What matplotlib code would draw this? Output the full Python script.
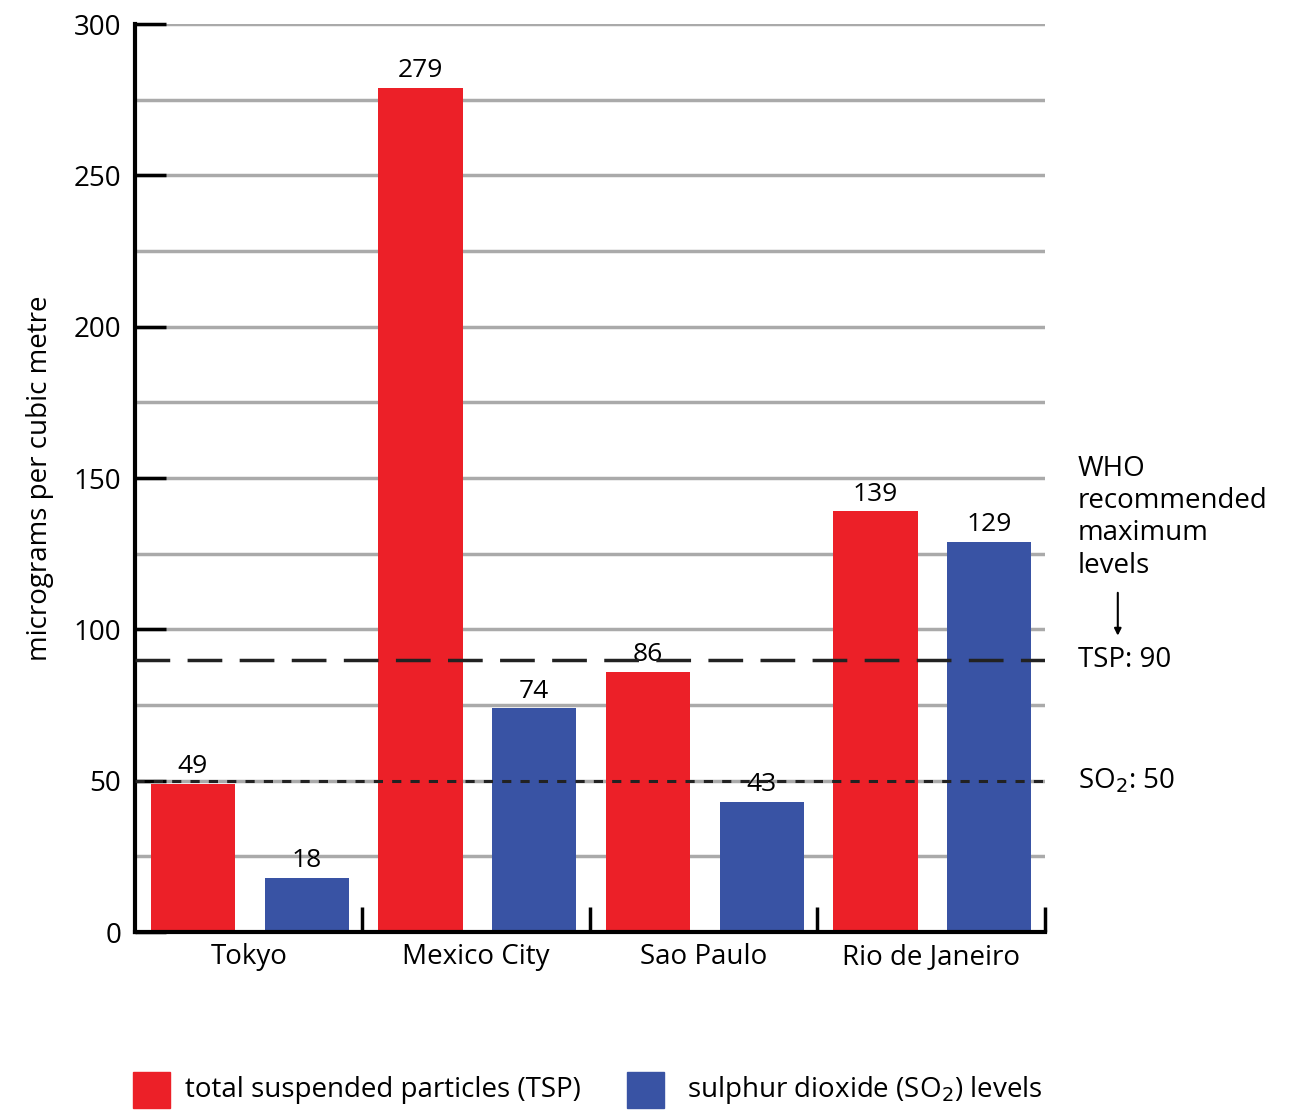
import matplotlib.pyplot as plt
import matplotlib.patches as mpatches
import numpy as np

plt.rcParams['font.family'] = ['Open Sans', 'DejaVu Sans']

cities = ['Tokyo', 'Mexico City', 'Sao Paulo', 'Rio de Janeiro']
tsp = [49, 279, 86, 139]
so2 = [18, 74, 43, 129]
tsp_limit = 90
so2_limit = 50

red = '#ec2028'
blue = '#3953a4'

fig = plt.figure(figsize=(12.89, 11.13), dpi=100)
ax = fig.add_axes([0.1047, 0.1626, 0.706, 0.8158])

x = np.arange(len(cities))
for v in range(25, 301, 25):
    ax.axhline(v, color='#aaaaaa', lw=2.5, zorder=0)

ax.bar(x + 0.255, tsp, width=0.37, color=red, zorder=2)
ax.bar(x + 0.755, so2, width=0.37, color=blue, zorder=2)
for i in range(len(cities)):
    ax.text(x[i] + 0.255, tsp[i] + 1.5, str(tsp[i]), ha='center', va='bottom', fontsize=19)
    ax.text(x[i] + 0.755, so2[i] + 1.5, str(so2[i]), ha='center', va='bottom', fontsize=19)

ax.axhline(tsp_limit, color='#222222', lw=2.5, dashes=(10, 5), zorder=3)
ax.axhline(so2_limit, color='#222222', lw=2.2, dashes=(3, 3), zorder=3)

ax.set_xlim(0, 4)
ax.set_ylim(0, 300)
ax.set_yticks(range(0, 301, 50))
ax.set_xticks([1, 2, 3, 4])
ax.set_xticklabels([])
ax.set_xticks(x + 0.5, minor=True)
ax.set_xticklabels(cities, minor=True, fontsize=20)
ax.tick_params(axis='x', which='minor', length=0, pad=8)
ax.tick_params(axis='x', which='major', direction='in', length=18, width=2.5)
ax.tick_params(axis='y', direction='in', length=22, width=2.5, labelsize=20, pad=10)
for s in ['top', 'right']:
    ax.spines[s].set_visible(False)
for s in ['left', 'bottom']:
    ax.spines[s].set_linewidth(3)
ax.set_ylabel('micrograms per cubic metre', fontsize=20, labelpad=14)

ax.text(1.036, 137, 'WHO\nrecommended\nmaximum\nlevels', transform=ax.get_yaxis_transform(),
        fontsize=20, va='center', ha='left', linespacing=1.2)
ax.annotate('', xy=(1.08, 97), xytext=(1.08, 113), xycoords=('axes fraction', 'data'),
            arrowprops=dict(arrowstyle='-|>', color='black', lw=1.5))
ax.text(1.036, tsp_limit, 'TSP: 90', transform=ax.get_yaxis_transform(),
        fontsize=20, va='center', ha='left')
ax.text(1.036, so2_limit, 'SO$_2$: 50', transform=ax.get_yaxis_transform(),
        fontsize=20, va='center', ha='left')

fig.patches.append(mpatches.Rectangle((133 / 1289, 5 / 1113), 37 / 1289, 36 / 1113,
                                      transform=fig.transFigure, color=red))
fig.text(185 / 1289, 23 / 1113, 'total suspended particles (TSP)', fontsize=20, va='center')
fig.patches.append(mpatches.Rectangle((627 / 1289, 5 / 1113), 37 / 1289, 36 / 1113,
                                      transform=fig.transFigure, color=blue))
fig.text(687 / 1289, 23 / 1113, 'sulphur dioxide (SO$_2$) levels', fontsize=20, va='center')

fig.savefig('out.png')
